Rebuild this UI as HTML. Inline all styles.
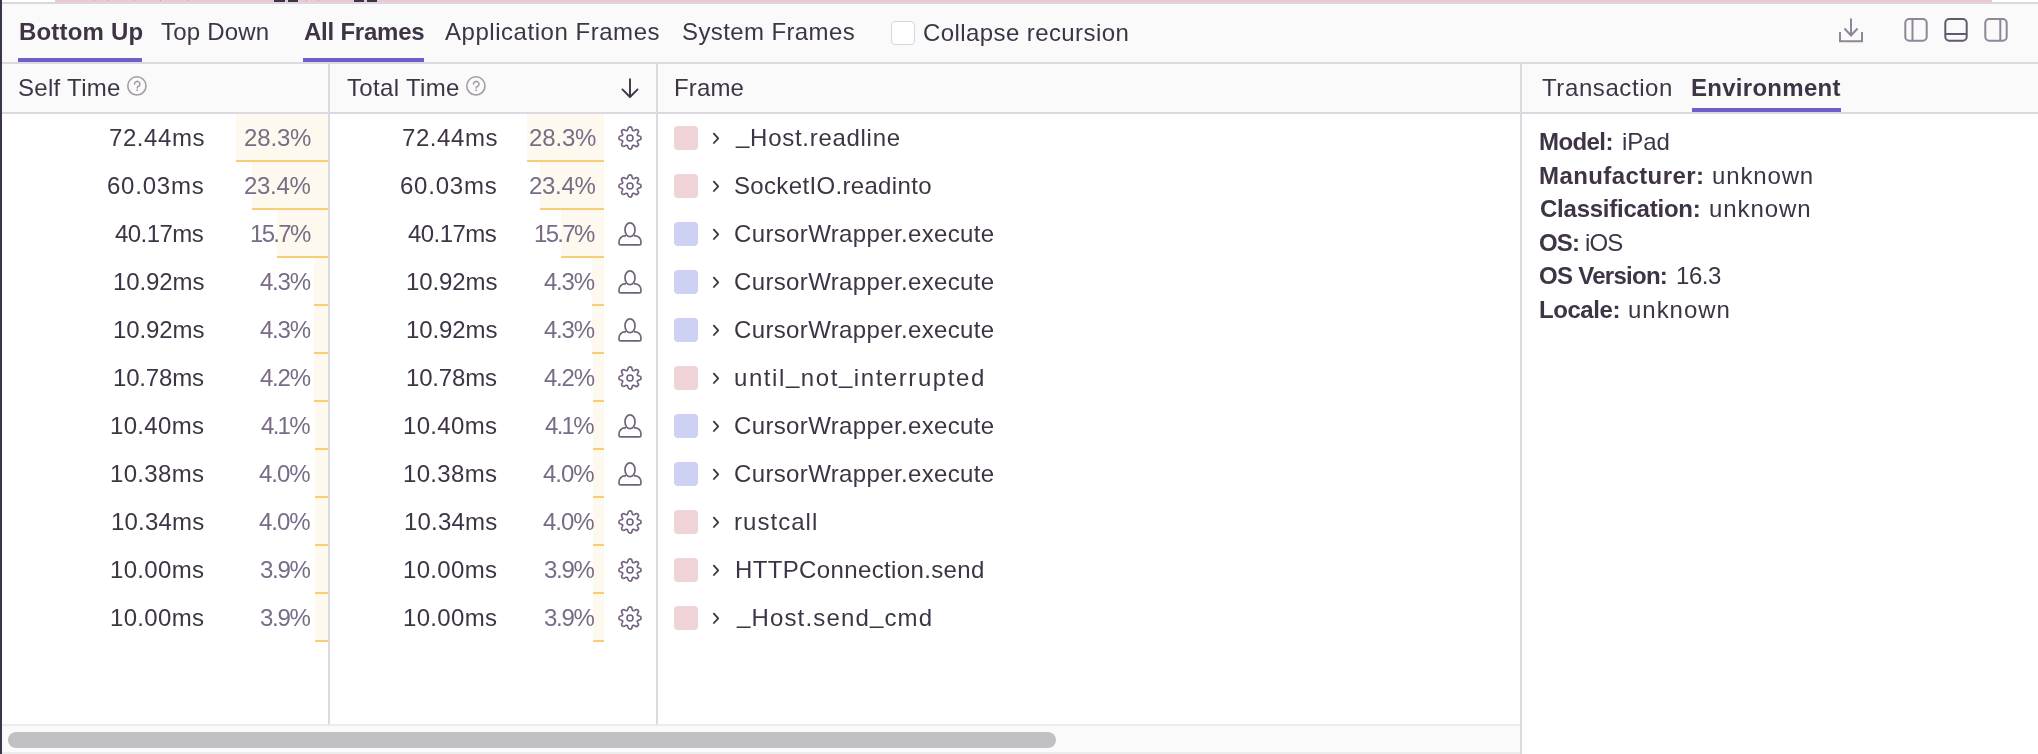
<!DOCTYPE html>
<html><head><meta charset="utf-8"><style>
*{box-sizing:border-box}
html,body{margin:0;padding:0}
body{width:2038px;height:754px;position:relative;overflow:hidden;background:#fff;font-family:"Liberation Sans",sans-serif;color:#3e3446}
.abs{position:absolute}
.t{position:absolute;font-size:24px;line-height:24px;white-space:nowrap;will-change:transform}
.bar{position:absolute;height:48px;background:#fdf9ee;border-bottom:2px solid #f8cd76}
.pct{color:#786c86}
.icn{position:absolute;width:24px;height:24px}
.icn svg{display:block}
.sw{position:absolute;left:674px;width:24px;height:24px;border-radius:4px}
.chev{position:absolute;left:711px}
.uline{position:absolute;height:4px;background:#6c5fc7}
.u{position:relative;top:-3.5px}
</style></head><body>
<div class="abs" style="left:55px;top:0;width:1937px;height:2px;background:#ebc9ce"></div>
<div class="abs" style="left:274px;top:0;width:11px;height:2px;background:#3e3446"></div>
<div class="abs" style="left:288px;top:0;width:10px;height:2px;background:#3e3446"></div>
<div class="abs" style="left:354px;top:0;width:10px;height:2px;background:#3e3446"></div>
<div class="abs" style="left:367px;top:0;width:10px;height:2px;background:#3e3446"></div>
<div class="abs" style="left:94px;top:0;width:1px;height:1px;background:#b9a6b1"></div><div class="abs" style="left:107px;top:0;width:1px;height:1px;background:#b9a6b1"></div><div class="abs" style="left:134px;top:0;width:1px;height:1px;background:#b9a6b1"></div><div class="abs" style="left:160px;top:0;width:1px;height:1px;background:#b9a6b1"></div><div class="abs" style="left:187px;top:0;width:1px;height:1px;background:#b9a6b1"></div><div class="abs" style="left:306px;top:0;width:1px;height:1px;background:#b9a6b1"></div><div class="abs" style="left:318px;top:0;width:1px;height:1px;background:#b9a6b1"></div>
<div class="abs" style="left:2px;top:2px;width:2036px;height:2px;background:#dbd6e1"></div>
<div class="abs" style="left:2px;top:4px;width:2036px;height:58px;background:#fafafa"></div>
<div class="abs" style="left:2px;top:62px;width:2036px;height:2px;background:#ddd8e2"></div>
<div class="t" style="left:18.5px;top:20px;letter-spacing:0.188px;font-weight:700">Bottom Up</div>
<div class="uline" style="left:18px;top:58px;width:124px"></div>
<div class="t" style="left:160.5px;top:20px;letter-spacing:0.214px">Top Down</div>
<div class="t" style="left:303.5px;top:20px;letter-spacing:-0.233px;font-weight:700">All Frames</div>
<div class="uline" style="left:303px;top:58px;width:121px"></div>
<div class="t" style="left:444.8px;top:20px;letter-spacing:0.535px">Application Frames</div>
<div class="t" style="left:682.3px;top:20px;letter-spacing:0.392px">System Frames</div>
<div class="abs" style="left:891px;top:21px;width:24px;height:24px;border:1.5px solid #d9d3df;border-radius:4px;background:#fff"></div>
<div class="t" style="left:923.3px;top:20.6px;letter-spacing:0.412px">Collapse recursion</div>
<svg class="abs" style="left:1836px;top:15px" width="30" height="30" viewBox="0 0 30 30" fill="none" stroke="#8f8699" stroke-width="2"><path d="M15 3.5 V20.5 M8.5 13.5 L15 20.5 L21.5 13.5 M4 17 V26.3 H26 V17"/></svg>
<svg class="abs" style="left:1901px;top:15px" width="30" height="30" viewBox="0 0 30 30" fill="none" stroke="#8f8699" stroke-width="2"><rect x="4.3" y="4" width="21.4" height="21.8" rx="4"/><path d="M11.5 4 V25.8"/></svg>
<svg class="abs" style="left:1941px;top:15px" width="30" height="30" viewBox="0 0 30 30" fill="none" stroke="#625a6c" stroke-width="2"><rect x="4.3" y="4" width="21.4" height="21.8" rx="4"/><path d="M4.3 19 H25.7"/></svg>
<svg class="abs" style="left:1981px;top:15px" width="30" height="30" viewBox="0 0 30 30" fill="none" stroke="#8f8699" stroke-width="2"><rect x="4.3" y="4" width="21.4" height="21.8" rx="4"/><path d="M19.3 4 V25.8"/></svg>
<div class="abs" style="left:2px;top:64px;width:2036px;height:48px;background:#fafafa"></div>
<div class="abs" style="left:2px;top:112px;width:2036px;height:2px;background:#ddd8e2"></div>
<div class="t" style="left:17.7px;top:75.7px;letter-spacing:0.3px">Self Time</div>
<div class="abs" style="left:126px;top:75px"><svg width="22" height="22" viewBox="0 0 22 22" fill="none" stroke="#a39bab" stroke-width="1.6" stroke-linecap="round"><circle cx="10.9" cy="10.9" r="9.1"/><path d="M8.5 9.1 A2.7 2.7 0 1 1 13.0 11.1 Q11.2 11.9 11.2 12.9"/><circle cx="11.2" cy="15.2" r="0.9" stroke="none" fill="#a39bab"/></svg></div>
<div class="t" style="left:346.6px;top:75.7px;letter-spacing:0.333px">Total Time</div>
<div class="abs" style="left:465px;top:75px"><svg width="22" height="22" viewBox="0 0 22 22" fill="none" stroke="#a39bab" stroke-width="1.6" stroke-linecap="round"><circle cx="10.9" cy="10.9" r="9.1"/><path d="M8.5 9.1 A2.7 2.7 0 1 1 13.0 11.1 Q11.2 11.9 11.2 12.9"/><circle cx="11.2" cy="15.2" r="0.9" stroke="none" fill="#a39bab"/></svg></div>
<svg class="abs" style="left:618px;top:76px" width="24" height="24" viewBox="0 0 24 24" fill="none" stroke="#3e3446" stroke-width="1.9" stroke-linecap="round" stroke-linejoin="round"><path d="M12 3.2 V20.8 M4.4 13.4 L12 21 L19.6 13.4"/></svg>
<div class="t" style="left:674.1px;top:75.7px;letter-spacing:0.125px">Frame</div>
<div class="t" style="left:1541.8px;top:75.7px;letter-spacing:0.59px">Transaction</div>
<div class="t" style="left:1691.3px;top:75.7px;letter-spacing:0.28px;font-weight:700">Environment</div>
<div class="uline" style="left:1692px;top:108px;width:149px"></div>
<div class="bar" style="left:235.7px;top:114px;width:92.3px"></div>
<div class="bar" style="left:526.5px;top:114px;width:77.5px"></div>
<div class="t" style="left:109.3px;top:126.0px;letter-spacing:0.567px">72.44ms</div>
<div class="t pct" style="left:244.3px;top:126.0px;letter-spacing:-0.15px">28.3%</div>
<div class="t" style="left:401.50px;top:126.0px;letter-spacing:0.567px">72.44ms</div>
<div class="t pct" style="left:528.70px;top:126.0px;letter-spacing:-0.15px">28.3%</div>
<div class="icn" style="left:618px;top:126px"><svg width="24" height="24" viewBox="0 0 24 24" fill="none" stroke="#71627f" stroke-width="1.6" stroke-linejoin="round"><path d="M9.250 4.594 L10.050 2.850 A1.95 1.95 0 0 1 13.950 2.850 L14.750 4.594 A7.9 7.9 0 0 1 15.292 4.819 L17.091 4.151 A1.95 1.95 0 0 1 19.849 6.909 L19.181 8.708 A7.9 7.9 0 0 1 19.406 9.250 L21.150 10.050 A1.95 1.95 0 0 1 21.150 13.950 L19.406 14.750 A7.9 7.9 0 0 1 19.181 15.292 L19.849 17.091 A1.95 1.95 0 0 1 17.091 19.849 L15.292 19.181 A7.9 7.9 0 0 1 14.750 19.406 L13.950 21.150 A1.95 1.95 0 0 1 10.050 21.150 L9.250 19.406 A7.9 7.9 0 0 1 8.708 19.181 L6.909 19.849 A1.95 1.95 0 0 1 4.151 17.091 L4.819 15.292 A7.9 7.9 0 0 1 4.594 14.750 L2.850 13.950 A1.95 1.95 0 0 1 2.850 10.050 L4.594 9.250 A7.9 7.9 0 0 1 4.819 8.708 L4.151 6.909 A1.95 1.95 0 0 1 6.909 4.151 L8.708 4.819 A7.9 7.9 0 0 1 9.250 4.594 Z"/><circle cx="12" cy="12" r="3.0"/></svg></div>
<div class="sw" style="top:126px;background:#f0d3d6"></div>
<svg class="chev" style="top:131px" width="10" height="14" viewBox="0 0 10 14"><path d="M2.9 2.6 L7.2 7.3 L2.9 12.0" fill="none" stroke="#3e3446" stroke-width="1.8" stroke-linecap="round" stroke-linejoin="round"/></svg>
<div class="t" style="left:736.2px;top:126.0px;letter-spacing:0.715px"><span class=u>_</span>Host.readline</div>
<div class="bar" style="left:251.7px;top:162px;width:76.3px"></div>
<div class="bar" style="left:539.9px;top:162px;width:64.1px"></div>
<div class="t" style="left:107.3px;top:174.0px;letter-spacing:0.767px">60.03ms</div>
<div class="t pct" style="left:244.3px;top:174.0px;letter-spacing:-0.325px">23.4%</div>
<div class="t" style="left:399.50px;top:174.0px;letter-spacing:0.767px">60.03ms</div>
<div class="t pct" style="left:528.70px;top:174.0px;letter-spacing:-0.325px">23.4%</div>
<div class="icn" style="left:618px;top:174px"><svg width="24" height="24" viewBox="0 0 24 24" fill="none" stroke="#71627f" stroke-width="1.6" stroke-linejoin="round"><path d="M9.250 4.594 L10.050 2.850 A1.95 1.95 0 0 1 13.950 2.850 L14.750 4.594 A7.9 7.9 0 0 1 15.292 4.819 L17.091 4.151 A1.95 1.95 0 0 1 19.849 6.909 L19.181 8.708 A7.9 7.9 0 0 1 19.406 9.250 L21.150 10.050 A1.95 1.95 0 0 1 21.150 13.950 L19.406 14.750 A7.9 7.9 0 0 1 19.181 15.292 L19.849 17.091 A1.95 1.95 0 0 1 17.091 19.849 L15.292 19.181 A7.9 7.9 0 0 1 14.750 19.406 L13.950 21.150 A1.95 1.95 0 0 1 10.050 21.150 L9.250 19.406 A7.9 7.9 0 0 1 8.708 19.181 L6.909 19.849 A1.95 1.95 0 0 1 4.151 17.091 L4.819 15.292 A7.9 7.9 0 0 1 4.594 14.750 L2.850 13.950 A1.95 1.95 0 0 1 2.850 10.050 L4.594 9.250 A7.9 7.9 0 0 1 4.819 8.708 L4.151 6.909 A1.95 1.95 0 0 1 6.909 4.151 L8.708 4.819 A7.9 7.9 0 0 1 9.250 4.594 Z"/><circle cx="12" cy="12" r="3.0"/></svg></div>
<div class="sw" style="top:174px;background:#f0d3d6"></div>
<svg class="chev" style="top:179px" width="10" height="14" viewBox="0 0 10 14"><path d="M2.9 2.6 L7.2 7.3 L2.9 12.0" fill="none" stroke="#3e3446" stroke-width="1.8" stroke-linecap="round" stroke-linejoin="round"/></svg>
<div class="t" style="left:734.0px;top:174.0px;letter-spacing:0.337px">SocketIO.readinto</div>
<div class="bar" style="left:276.8px;top:210px;width:51.2px"></div>
<div class="bar" style="left:561.0px;top:210px;width:43.0px"></div>
<div class="t" style="left:115.3px;top:222.0px;letter-spacing:-0.567px">40.17ms</div>
<div class="t pct" style="left:249.8px;top:222.0px;letter-spacing:-1.7px">15.7%</div>
<div class="t" style="left:407.50px;top:222.0px;letter-spacing:-0.567px">40.17ms</div>
<div class="t pct" style="left:534.20px;top:222.0px;letter-spacing:-1.7px">15.7%</div>
<div class="icn" style="left:618px;top:222px"><svg width="24" height="24" viewBox="0 0 24 24" fill="none" stroke="#71627f" stroke-width="1.7" stroke-linejoin="round"><path d="M8 13.85 H6.8 A5.8 5.8 0 0 0 1.05 19.65 V21.5 Q1.05 22.95 2.5 22.95 H21.5 Q22.95 22.95 22.95 21.5 V19.65 A5.8 5.8 0 0 0 17.2 13.85 H16"/><ellipse cx="12" cy="7.75" rx="5" ry="6.9" fill="#fff"/></svg></div>
<div class="sw" style="top:222px;background:#cdd1f3"></div>
<svg class="chev" style="top:227px" width="10" height="14" viewBox="0 0 10 14"><path d="M2.9 2.6 L7.2 7.3 L2.9 12.0" fill="none" stroke="#3e3446" stroke-width="1.8" stroke-linecap="round" stroke-linejoin="round"/></svg>
<div class="t" style="left:734.0px;top:222.0px;letter-spacing:0.36px">CursorWrapper.execute</div>
<div class="bar" style="left:314.0px;top:258px;width:14.0px"></div>
<div class="bar" style="left:592.2px;top:258px;width:11.8px"></div>
<div class="t" style="left:113.3px;top:270.0px;letter-spacing:-0.1px">10.92ms</div>
<div class="t pct" style="left:259.8px;top:270.0px;letter-spacing:-1.233px">4.3%</div>
<div class="t" style="left:405.50px;top:270.0px;letter-spacing:-0.1px">10.92ms</div>
<div class="t pct" style="left:544.20px;top:270.0px;letter-spacing:-1.233px">4.3%</div>
<div class="icn" style="left:618px;top:270px"><svg width="24" height="24" viewBox="0 0 24 24" fill="none" stroke="#71627f" stroke-width="1.7" stroke-linejoin="round"><path d="M8 13.85 H6.8 A5.8 5.8 0 0 0 1.05 19.65 V21.5 Q1.05 22.95 2.5 22.95 H21.5 Q22.95 22.95 22.95 21.5 V19.65 A5.8 5.8 0 0 0 17.2 13.85 H16"/><ellipse cx="12" cy="7.75" rx="5" ry="6.9" fill="#fff"/></svg></div>
<div class="sw" style="top:270px;background:#cdd1f3"></div>
<svg class="chev" style="top:275px" width="10" height="14" viewBox="0 0 10 14"><path d="M2.9 2.6 L7.2 7.3 L2.9 12.0" fill="none" stroke="#3e3446" stroke-width="1.8" stroke-linecap="round" stroke-linejoin="round"/></svg>
<div class="t" style="left:734.0px;top:270.0px;letter-spacing:0.36px">CursorWrapper.execute</div>
<div class="bar" style="left:314.0px;top:306px;width:14.0px"></div>
<div class="bar" style="left:592.2px;top:306px;width:11.8px"></div>
<div class="t" style="left:113.3px;top:318.0px;letter-spacing:-0.1px">10.92ms</div>
<div class="t pct" style="left:259.8px;top:318.0px;letter-spacing:-1.233px">4.3%</div>
<div class="t" style="left:405.50px;top:318.0px;letter-spacing:-0.1px">10.92ms</div>
<div class="t pct" style="left:544.20px;top:318.0px;letter-spacing:-1.233px">4.3%</div>
<div class="icn" style="left:618px;top:318px"><svg width="24" height="24" viewBox="0 0 24 24" fill="none" stroke="#71627f" stroke-width="1.7" stroke-linejoin="round"><path d="M8 13.85 H6.8 A5.8 5.8 0 0 0 1.05 19.65 V21.5 Q1.05 22.95 2.5 22.95 H21.5 Q22.95 22.95 22.95 21.5 V19.65 A5.8 5.8 0 0 0 17.2 13.85 H16"/><ellipse cx="12" cy="7.75" rx="5" ry="6.9" fill="#fff"/></svg></div>
<div class="sw" style="top:318px;background:#cdd1f3"></div>
<svg class="chev" style="top:323px" width="10" height="14" viewBox="0 0 10 14"><path d="M2.9 2.6 L7.2 7.3 L2.9 12.0" fill="none" stroke="#3e3446" stroke-width="1.8" stroke-linecap="round" stroke-linejoin="round"/></svg>
<div class="t" style="left:734.0px;top:318.0px;letter-spacing:0.36px">CursorWrapper.execute</div>
<div class="bar" style="left:314.3px;top:354px;width:13.7px"></div>
<div class="bar" style="left:592.5px;top:354px;width:11.5px"></div>
<div class="t" style="left:113.3px;top:366.0px;letter-spacing:-0.183px">10.78ms</div>
<div class="t pct" style="left:259.8px;top:366.0px;letter-spacing:-1.233px">4.2%</div>
<div class="t" style="left:405.50px;top:366.0px;letter-spacing:-0.183px">10.78ms</div>
<div class="t pct" style="left:544.20px;top:366.0px;letter-spacing:-1.233px">4.2%</div>
<div class="icn" style="left:618px;top:366px"><svg width="24" height="24" viewBox="0 0 24 24" fill="none" stroke="#71627f" stroke-width="1.6" stroke-linejoin="round"><path d="M9.250 4.594 L10.050 2.850 A1.95 1.95 0 0 1 13.950 2.850 L14.750 4.594 A7.9 7.9 0 0 1 15.292 4.819 L17.091 4.151 A1.95 1.95 0 0 1 19.849 6.909 L19.181 8.708 A7.9 7.9 0 0 1 19.406 9.250 L21.150 10.050 A1.95 1.95 0 0 1 21.150 13.950 L19.406 14.750 A7.9 7.9 0 0 1 19.181 15.292 L19.849 17.091 A1.95 1.95 0 0 1 17.091 19.849 L15.292 19.181 A7.9 7.9 0 0 1 14.750 19.406 L13.950 21.150 A1.95 1.95 0 0 1 10.050 21.150 L9.250 19.406 A7.9 7.9 0 0 1 8.708 19.181 L6.909 19.849 A1.95 1.95 0 0 1 4.151 17.091 L4.819 15.292 A7.9 7.9 0 0 1 4.594 14.750 L2.850 13.950 A1.95 1.95 0 0 1 2.850 10.050 L4.594 9.250 A7.9 7.9 0 0 1 4.819 8.708 L4.151 6.909 A1.95 1.95 0 0 1 6.909 4.151 L8.708 4.819 A7.9 7.9 0 0 1 9.250 4.594 Z"/><circle cx="12" cy="12" r="3.0"/></svg></div>
<div class="sw" style="top:366px;background:#f0d3d6"></div>
<svg class="chev" style="top:371px" width="10" height="14" viewBox="0 0 10 14"><path d="M2.9 2.6 L7.2 7.3 L2.9 12.0" fill="none" stroke="#3e3446" stroke-width="1.8" stroke-linecap="round" stroke-linejoin="round"/></svg>
<div class="t" style="left:734.0px;top:366.0px;letter-spacing:1.57px">until<span class=u>_</span>not<span class=u>_</span>interrupted</div>
<div class="bar" style="left:314.6px;top:402px;width:13.4px"></div>
<div class="bar" style="left:592.8px;top:402px;width:11.2px"></div>
<div class="t" style="left:110.3px;top:414.0px;letter-spacing:0.333px">10.40ms</div>
<div class="t pct" style="left:260.8px;top:414.0px;letter-spacing:-1.7px">4.1%</div>
<div class="t" style="left:402.50px;top:414.0px;letter-spacing:0.333px">10.40ms</div>
<div class="t pct" style="left:545.20px;top:414.0px;letter-spacing:-1.7px">4.1%</div>
<div class="icn" style="left:618px;top:414px"><svg width="24" height="24" viewBox="0 0 24 24" fill="none" stroke="#71627f" stroke-width="1.7" stroke-linejoin="round"><path d="M8 13.85 H6.8 A5.8 5.8 0 0 0 1.05 19.65 V21.5 Q1.05 22.95 2.5 22.95 H21.5 Q22.95 22.95 22.95 21.5 V19.65 A5.8 5.8 0 0 0 17.2 13.85 H16"/><ellipse cx="12" cy="7.75" rx="5" ry="6.9" fill="#fff"/></svg></div>
<div class="sw" style="top:414px;background:#cdd1f3"></div>
<svg class="chev" style="top:419px" width="10" height="14" viewBox="0 0 10 14"><path d="M2.9 2.6 L7.2 7.3 L2.9 12.0" fill="none" stroke="#3e3446" stroke-width="1.8" stroke-linecap="round" stroke-linejoin="round"/></svg>
<div class="t" style="left:734.0px;top:414.0px;letter-spacing:0.36px">CursorWrapper.execute</div>
<div class="bar" style="left:315.0px;top:450px;width:13.0px"></div>
<div class="bar" style="left:593.0px;top:450px;width:11.0px"></div>
<div class="t" style="left:110.3px;top:462.0px;letter-spacing:0.333px">10.38ms</div>
<div class="t pct" style="left:258.8px;top:462.0px;letter-spacing:-1.0px">4.0%</div>
<div class="t" style="left:402.50px;top:462.0px;letter-spacing:0.333px">10.38ms</div>
<div class="t pct" style="left:543.20px;top:462.0px;letter-spacing:-1.0px">4.0%</div>
<div class="icn" style="left:618px;top:462px"><svg width="24" height="24" viewBox="0 0 24 24" fill="none" stroke="#71627f" stroke-width="1.7" stroke-linejoin="round"><path d="M8 13.85 H6.8 A5.8 5.8 0 0 0 1.05 19.65 V21.5 Q1.05 22.95 2.5 22.95 H21.5 Q22.95 22.95 22.95 21.5 V19.65 A5.8 5.8 0 0 0 17.2 13.85 H16"/><ellipse cx="12" cy="7.75" rx="5" ry="6.9" fill="#fff"/></svg></div>
<div class="sw" style="top:462px;background:#cdd1f3"></div>
<svg class="chev" style="top:467px" width="10" height="14" viewBox="0 0 10 14"><path d="M2.9 2.6 L7.2 7.3 L2.9 12.0" fill="none" stroke="#3e3446" stroke-width="1.8" stroke-linecap="round" stroke-linejoin="round"/></svg>
<div class="t" style="left:734.0px;top:462.0px;letter-spacing:0.36px">CursorWrapper.execute</div>
<div class="bar" style="left:315.0px;top:498px;width:13.0px"></div>
<div class="bar" style="left:593.0px;top:498px;width:11.0px"></div>
<div class="t" style="left:111.3px;top:510.0px;letter-spacing:0.2px">10.34ms</div>
<div class="t pct" style="left:258.8px;top:510.0px;letter-spacing:-1.0px">4.0%</div>
<div class="t" style="left:403.50px;top:510.0px;letter-spacing:0.2px">10.34ms</div>
<div class="t pct" style="left:543.20px;top:510.0px;letter-spacing:-1.0px">4.0%</div>
<div class="icn" style="left:618px;top:510px"><svg width="24" height="24" viewBox="0 0 24 24" fill="none" stroke="#71627f" stroke-width="1.6" stroke-linejoin="round"><path d="M9.250 4.594 L10.050 2.850 A1.95 1.95 0 0 1 13.950 2.850 L14.750 4.594 A7.9 7.9 0 0 1 15.292 4.819 L17.091 4.151 A1.95 1.95 0 0 1 19.849 6.909 L19.181 8.708 A7.9 7.9 0 0 1 19.406 9.250 L21.150 10.050 A1.95 1.95 0 0 1 21.150 13.950 L19.406 14.750 A7.9 7.9 0 0 1 19.181 15.292 L19.849 17.091 A1.95 1.95 0 0 1 17.091 19.849 L15.292 19.181 A7.9 7.9 0 0 1 14.750 19.406 L13.950 21.150 A1.95 1.95 0 0 1 10.050 21.150 L9.250 19.406 A7.9 7.9 0 0 1 8.708 19.181 L6.909 19.849 A1.95 1.95 0 0 1 4.151 17.091 L4.819 15.292 A7.9 7.9 0 0 1 4.594 14.750 L2.850 13.950 A1.95 1.95 0 0 1 2.850 10.050 L4.594 9.250 A7.9 7.9 0 0 1 4.819 8.708 L4.151 6.909 A1.95 1.95 0 0 1 6.909 4.151 L8.708 4.819 A7.9 7.9 0 0 1 9.250 4.594 Z"/><circle cx="12" cy="12" r="3.0"/></svg></div>
<div class="sw" style="top:510px;background:#f0d3d6"></div>
<svg class="chev" style="top:515px" width="10" height="14" viewBox="0 0 10 14"><path d="M2.9 2.6 L7.2 7.3 L2.9 12.0" fill="none" stroke="#3e3446" stroke-width="1.8" stroke-linecap="round" stroke-linejoin="round"/></svg>
<div class="t" style="left:734.2px;top:510.0px;letter-spacing:1.043px">rustcall</div>
<div class="bar" style="left:315.3px;top:546px;width:12.7px"></div>
<div class="bar" style="left:593.3px;top:546px;width:10.7px"></div>
<div class="t" style="left:110.3px;top:558.0px;letter-spacing:0.333px">10.00ms</div>
<div class="t pct" style="left:259.8px;top:558.0px;letter-spacing:-1.3px">3.9%</div>
<div class="t" style="left:402.50px;top:558.0px;letter-spacing:0.333px">10.00ms</div>
<div class="t pct" style="left:544.20px;top:558.0px;letter-spacing:-1.3px">3.9%</div>
<div class="icn" style="left:618px;top:558px"><svg width="24" height="24" viewBox="0 0 24 24" fill="none" stroke="#71627f" stroke-width="1.6" stroke-linejoin="round"><path d="M9.250 4.594 L10.050 2.850 A1.95 1.95 0 0 1 13.950 2.850 L14.750 4.594 A7.9 7.9 0 0 1 15.292 4.819 L17.091 4.151 A1.95 1.95 0 0 1 19.849 6.909 L19.181 8.708 A7.9 7.9 0 0 1 19.406 9.250 L21.150 10.050 A1.95 1.95 0 0 1 21.150 13.950 L19.406 14.750 A7.9 7.9 0 0 1 19.181 15.292 L19.849 17.091 A1.95 1.95 0 0 1 17.091 19.849 L15.292 19.181 A7.9 7.9 0 0 1 14.750 19.406 L13.950 21.150 A1.95 1.95 0 0 1 10.050 21.150 L9.250 19.406 A7.9 7.9 0 0 1 8.708 19.181 L6.909 19.849 A1.95 1.95 0 0 1 4.151 17.091 L4.819 15.292 A7.9 7.9 0 0 1 4.594 14.750 L2.850 13.950 A1.95 1.95 0 0 1 2.850 10.050 L4.594 9.250 A7.9 7.9 0 0 1 4.819 8.708 L4.151 6.909 A1.95 1.95 0 0 1 6.909 4.151 L8.708 4.819 A7.9 7.9 0 0 1 9.250 4.594 Z"/><circle cx="12" cy="12" r="3.0"/></svg></div>
<div class="sw" style="top:558px;background:#f0d3d6"></div>
<svg class="chev" style="top:563px" width="10" height="14" viewBox="0 0 10 14"><path d="M2.9 2.6 L7.2 7.3 L2.9 12.0" fill="none" stroke="#3e3446" stroke-width="1.8" stroke-linecap="round" stroke-linejoin="round"/></svg>
<div class="t" style="left:734.8px;top:558.0px;letter-spacing:0.361px">HTTPConnection.send</div>
<div class="bar" style="left:315.3px;top:594px;width:12.7px"></div>
<div class="bar" style="left:593.3px;top:594px;width:10.7px"></div>
<div class="t" style="left:110.3px;top:606.0px;letter-spacing:0.333px">10.00ms</div>
<div class="t pct" style="left:259.8px;top:606.0px;letter-spacing:-1.3px">3.9%</div>
<div class="t" style="left:402.50px;top:606.0px;letter-spacing:0.333px">10.00ms</div>
<div class="t pct" style="left:544.20px;top:606.0px;letter-spacing:-1.3px">3.9%</div>
<div class="icn" style="left:618px;top:606px"><svg width="24" height="24" viewBox="0 0 24 24" fill="none" stroke="#71627f" stroke-width="1.6" stroke-linejoin="round"><path d="M9.250 4.594 L10.050 2.850 A1.95 1.95 0 0 1 13.950 2.850 L14.750 4.594 A7.9 7.9 0 0 1 15.292 4.819 L17.091 4.151 A1.95 1.95 0 0 1 19.849 6.909 L19.181 8.708 A7.9 7.9 0 0 1 19.406 9.250 L21.150 10.050 A1.95 1.95 0 0 1 21.150 13.950 L19.406 14.750 A7.9 7.9 0 0 1 19.181 15.292 L19.849 17.091 A1.95 1.95 0 0 1 17.091 19.849 L15.292 19.181 A7.9 7.9 0 0 1 14.750 19.406 L13.950 21.150 A1.95 1.95 0 0 1 10.050 21.150 L9.250 19.406 A7.9 7.9 0 0 1 8.708 19.181 L6.909 19.849 A1.95 1.95 0 0 1 4.151 17.091 L4.819 15.292 A7.9 7.9 0 0 1 4.594 14.750 L2.850 13.950 A1.95 1.95 0 0 1 2.850 10.050 L4.594 9.250 A7.9 7.9 0 0 1 4.819 8.708 L4.151 6.909 A1.95 1.95 0 0 1 6.909 4.151 L8.708 4.819 A7.9 7.9 0 0 1 9.250 4.594 Z"/><circle cx="12" cy="12" r="3.0"/></svg></div>
<div class="sw" style="top:606px;background:#f0d3d6"></div>
<svg class="chev" style="top:611px" width="10" height="14" viewBox="0 0 10 14"><path d="M2.9 2.6 L7.2 7.3 L2.9 12.0" fill="none" stroke="#3e3446" stroke-width="1.8" stroke-linecap="round" stroke-linejoin="round"/></svg>
<div class="t" style="left:736.8px;top:606.0px;letter-spacing:1.146px"><span class=u>_</span>Host.send<span class=u>_</span>cmd</div>
<div class="abs" style="left:328px;top:64px;width:2px;height:660px;background:#ddd8e2"></div>
<div class="abs" style="left:656px;top:64px;width:2px;height:660px;background:#ddd8e2"></div>
<div class="abs" style="left:1520px;top:64px;width:2px;height:690px;background:#ddd8e2"></div>
<div class="t" style="left:1538.6px;top:130.0px;letter-spacing:-0.58px;font-weight:700">Model:</div>
<div class="t" style="left:1621.7px;top:130.0px;letter-spacing:-0.1px">iPad</div>
<div class="t" style="left:1538.6px;top:163.55px;letter-spacing:0.408px;font-weight:700">Manufacturer:</div>
<div class="t" style="left:1712.3px;top:163.55px;letter-spacing:0.85px">unknown</div>
<div class="t" style="left:1539.6px;top:197.1px;letter-spacing:-0.236px;font-weight:700">Classification:</div>
<div class="t" style="left:1709.3px;top:197.1px;letter-spacing:0.933px">unknown</div>
<div class="t" style="left:1539.1px;top:230.65px;letter-spacing:-0.9px;font-weight:700">OS:</div>
<div class="t" style="left:1584.6px;top:230.65px;letter-spacing:-0.9px">iOS</div>
<div class="t" style="left:1539.1px;top:264.2px;letter-spacing:-0.72px;font-weight:700">OS Version:</div>
<div class="t" style="left:1676.2px;top:264.2px;letter-spacing:-0.433px">16.3</div>
<div class="t" style="left:1538.6px;top:297.75px;letter-spacing:-0.433px;font-weight:700">Locale:</div>
<div class="t" style="left:1628.4px;top:297.75px;letter-spacing:0.967px">unknown</div>
<div class="abs" style="left:2px;top:724px;width:1518px;height:30px;background:#fafafa;border-top:2px solid #ececec;border-bottom:2px solid #ececec"></div>
<div class="abs" style="left:8px;top:732px;width:1048px;height:16px;border-radius:8px;background:#c1c1c3"></div>
<div class="abs" style="left:0;top:0;width:2px;height:754px;background:#3e3446"></div>
</body></html>
